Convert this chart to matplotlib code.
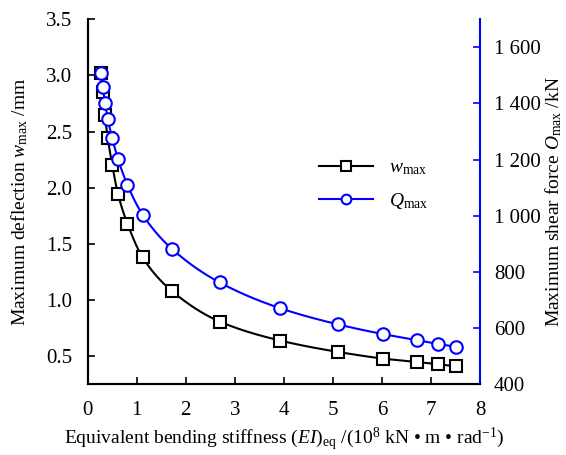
import numpy as np
import matplotlib
matplotlib.use("Agg")
import matplotlib.pyplot as plt
from matplotlib.ticker import FuncFormatter

plt.rcParams["font.family"] = ["Liberation Serif", "DejaVu Serif"]
plt.rcParams["mathtext.fontset"] = "custom"
plt.rcParams["mathtext.rm"] = "Liberation Serif"
plt.rcParams["mathtext.it"] = "Liberation Serif:italic"
plt.rcParams["font.size"] = 14

# data
ei = [0.28, 0.31, 0.35, 0.41, 0.50, 0.62, 0.81, 1.12, 1.72, 2.69, 3.93, 5.10, 6.03, 6.71, 7.15, 7.52]
w_max = [3.02, 2.85, 2.645, 2.44, 2.20, 1.94, 1.68, 1.38, 1.08, 0.81, 0.64, 0.54, 0.48, 0.45, 0.43, 0.41]
q_max = [1507, 1457, 1403, 1344, 1276, 1201, 1110, 1004, 882, 763, 671, 614, 579, 558, 544, 534]


def pchip(x, y, xs):
    # monotone cubic, only used to draw a smooth line through the points
    x = np.asarray(x, float)
    y = np.asarray(y, float)
    h = np.diff(x)
    d = np.diff(y) / h
    m = np.zeros_like(y)
    for k in range(1, len(x) - 1):
        if d[k - 1] * d[k] > 0:
            w1 = 2 * h[k] + h[k - 1]
            w2 = h[k] + 2 * h[k - 1]
            m[k] = (w1 + w2) / (w1 / d[k - 1] + w2 / d[k])
    m[0] = d[0]
    m[-1] = d[-1]
    idx = np.clip(np.searchsorted(x, xs) - 1, 0, len(x) - 2)
    t = (xs - x[idx]) / h[idx]
    h00 = 2 * t**3 - 3 * t**2 + 1
    h10 = t**3 - 2 * t**2 + t
    h01 = -2 * t**3 + 3 * t**2
    h11 = t**3 - t**2
    return h00 * y[idx] + h10 * h[idx] * m[idx] + h01 * y[idx + 1] + h11 * h[idx] * m[idx + 1]


fig = plt.figure(figsize=(5.66, 4.55), dpi=100)
ax = fig.add_axes([0.155, 0.155, 0.693, 0.803])
ax2 = ax.twinx()

xs = np.linspace(ei[0], ei[-1], 600)
ax.plot(xs, pchip(ei, w_max, xs), color="black", lw=1.5)
ax.plot(ei, w_max, ls="none", marker="s", ms=8, mfc="white", mec="black", mew=1.5)
ax2.plot(xs, pchip(ei, q_max, xs), color="blue", lw=1.5)
ax2.plot(ei, q_max, ls="none", marker="o", ms=9, mfc="white", mec="blue", mew=1.5)

h1, = ax.plot([], [], color="black", lw=1.5, marker="s", ms=7, mfc="white", mec="black", mew=1.5)
h2, = ax.plot([], [], color="blue", lw=1.5, marker="o", ms=7, mfc="white", mec="blue", mew=1.5)

ax.set_xlim(0, 8)
ax.set_ylim(0.25, 3.5)
ax2.set_ylim(400, 1700)
ax.set_xticks(range(0, 9))
ax.set_yticks([0.5, 1.0, 1.5, 2.0, 2.5, 3.0, 3.5])
ax.yaxis.set_major_formatter(FuncFormatter(lambda v, p: f"{v:.1f}"))
ax2.set_yticks([400, 600, 800, 1000, 1200, 1400, 1600])
ax2.yaxis.set_major_formatter(FuncFormatter(lambda v, p: f"{int(v):,}".replace(",", " ")))

for a in (ax, ax2):
    a.spines["top"].set_visible(False)
    a.spines["left"].set_linewidth(1.5)
    a.spines["bottom"].set_linewidth(1.5)
    a.spines["right"].set_linewidth(1.5)
ax2.spines["right"].set_color("blue")
ax.spines["right"].set_visible(False)

ax.tick_params(direction="in", length=5, width=1.2, labelsize=15, pad=12)
ax.tick_params(axis="y", pad=11)
ax2.tick_params(direction="in", length=5, width=1.2, color="blue", labelsize=15, pad=10)

ax.set_xlabel(r"Equivalent bending stiffness $(EI)_{\mathrm{eq}}$ /(10$^{8}$ kN • m • rad$^{-1}$)",
              fontsize=14, labelpad=4)
ax.set_ylabel(r"Maximum deflection $w_{\mathrm{max}}$ /mm", fontsize=14, labelpad=12)
ax2.set_ylabel(r"Maximum shear force $O_{\mathrm{max}}$ /kN", fontsize=14, labelpad=2)

ax.legend([h1, h2], [r"$w_{\mathrm{max}}$", r"$Q_{\mathrm{max}}$"], loc="upper left",
          bbox_to_anchor=(0.545, 0.665), frameon=False, handlelength=2.8,
          labelspacing=0.7, fontsize=14)

fig.savefig("out.png", dpi=100)
